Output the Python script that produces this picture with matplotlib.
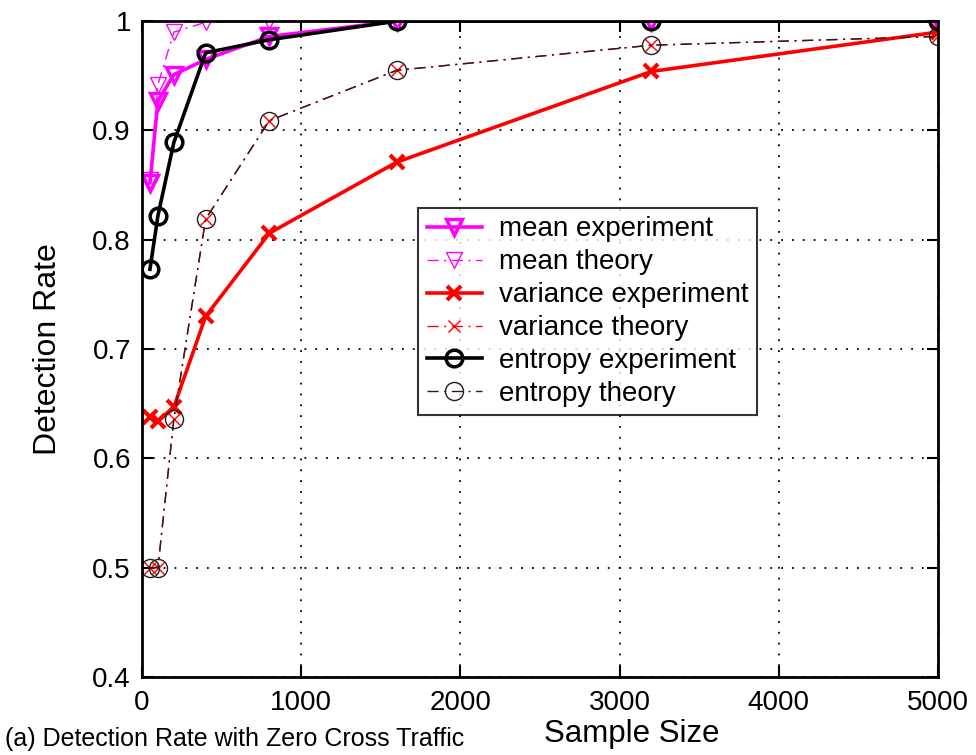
import matplotlib
matplotlib.use('Agg')
import matplotlib.pyplot as plt

plt.rcParams['font.family'] = ['Liberation Sans', 'DejaVu Sans']

# sample sizes
n = [50, 100, 200, 400, 800, 1600, 3200, 5000]

mean_exp = [0.852, 0.927, 0.951, 0.965, 0.986, 1.0, 1.0, 1.0]
mean_th = [0.855, 0.942, 0.990, 0.999, 1.0, 1.0, 1.0, 1.0]
var_exp = [0.638, 0.634, 0.647, 0.730, 0.806, 0.871, 0.954, 0.990]
var_th = [0.500, 0.500, 0.636, 0.819, 0.909, 0.955, 0.978, 0.986]
ent_exp = [0.773, 0.822, 0.889, 0.971, 0.983, 1.0, 1.0, 1.0]
ent_th = [0.500, 0.500, 0.636, 0.819, 0.909, 0.955, 0.978, 0.986]

xticks = [0, 1000, 2000, 3000, 4000, 5000]
yticks = [0.4, 0.5, 0.6, 0.7, 0.8, 0.9, 1.0]
ytick_labels = ['0.4', '0.5', '0.6', '0.7', '0.8', '0.9', '1']

dashdot = (0, (8, 4, 1.5, 4))

fig = plt.figure(figsize=(9.76, 7.55), dpi=100)
ax = fig.add_axes([0.1455, 0.1033, 0.8155, 0.8687])

ax.plot(n, mean_exp, color='#ff00ff', lw=2.6, marker='v', ms=12,
        mfc='none', mec='#ff00ff', mew=2.5, label='mean experiment')
ax.plot(n, mean_th, color='#ff00ff', lw=1.0, ls=dashdot, marker='v', ms=12,
        mfc='none', mec='#ff00ff', mew=1.0, label='mean theory')
ax.plot(n, var_exp, color='#ff0000', lw=2.6, marker='x', ms=10,
        mew=3.0, label='variance experiment')
ax.plot(n, var_th, color='#ff0000', lw=1.0, ls=dashdot, marker='x', ms=9,
        mew=1.0, label='variance theory')
ax.plot(n, ent_exp, color='black', lw=2.6, marker='o', ms=12,
        mfc='none', mec='black', mew=2.5, label='entropy experiment')
ax.plot(n, ent_th, color='#2a1a1a', lw=1.0, ls=dashdot, marker='o', ms=13,
        mfc='none', mec='#2a1a1a', mew=1.0, label='entropy theory')

ax.set_xlim(0, 5000)
ax.set_ylim(0.4, 1.0)
ax.set_xticks(xticks)
ax.set_yticks(yticks)
ax.set_yticklabels(ytick_labels)
ax.tick_params(direction='in', length=8, width=1.5, labelsize=20,
               top=True, right=True)
ax.tick_params(axis='x', pad=9)
ax.tick_params(axis='y', pad=8)
for s in ax.spines.values():
    s.set_linewidth(2)
ax.grid(True, color='black', ls=(0, (1, 5)), lw=1.3)

leg = ax.legend(loc='upper left', bbox_to_anchor=(0.347, 0.715),
                fontsize=20, frameon=True, fancybox=False,
                edgecolor='black', borderpad=0.3, labelspacing=0.25,
                handlelength=2.0, handletextpad=0.6, borderaxespad=0)
leg.get_frame().set_linewidth(1.5)

fig.text(48 / 976, 1 - 349 / 755, 'Detection Rate', rotation=90,
         fontsize=23, ha='center', va='center')
fig.text(632 / 976, 1 - 734 / 755, 'Sample Size', fontsize=22.5,
         ha='center', va='center')
fig.text(5 / 976, 1 - 739 / 755, '(a) Detection Rate with Zero Cross Traffic',
         fontsize=18, ha='left', va='center')

fig.savefig('out.png', dpi=100)
